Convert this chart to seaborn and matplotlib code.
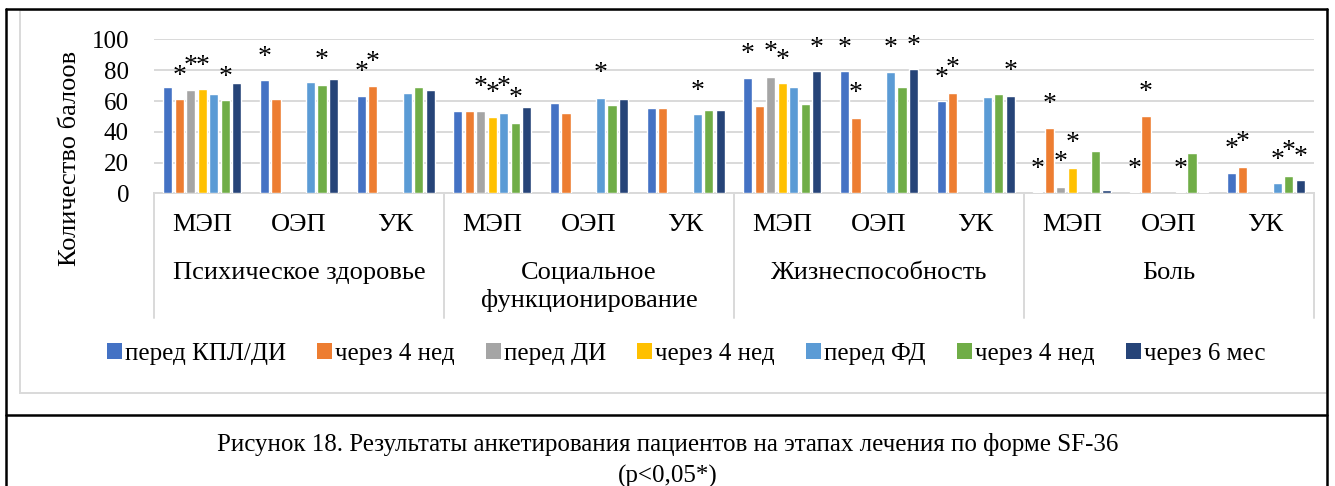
import numpy as np
import pandas as pd
import matplotlib
matplotlib.use("Agg")
import matplotlib.pyplot as plt
from matplotlib.patches import Patch, Rectangle
from matplotlib.lines import Line2D
from matplotlib.transforms import blended_transform_factory
import seaborn as sns

sns.set_theme(style="white")
plt.rcParams['font.family'] = ['Liberation Serif', 'DejaVu Serif']
plt.rcParams['text.color'] = 'black'
plt.rcParams['ytick.color'] = 'black'
plt.rcParams['xtick.color'] = 'black'
plt.rcParams['axes.labelcolor'] = 'black'

# categories of the two-level x axis
categories = ["Психическое здоровье", "Социальное\nфункционирование", "Жизнеспособность", "Боль"]
subgroups = ["МЭП", "ОЭП", "УК"]

series_labels = ["перед КПЛ/ДИ", "через 4 нед", "перед ДИ", "через 4 нед",
                 "перед ФД", "через 4 нед", "через 6 мес"]
series_keys = ["s1", "s2", "s3", "s4", "s5", "s6", "s7"]
colors = ["#4472C4", "#ED7D31", "#A5A5A5", "#FFC000", "#5B9BD5", "#70AD47", "#264478"]

nan = np.nan
# values per series, 12 groups (4 categories x МЭП/ОЭП/УК)
s1 = [69, 73.5, 63, 53.5, 58.5, 55.5, 75, 79.5, 60, 1, 1, 13.5]
s2 = [61, 61.5, 69.5, 53.5, 52, 55.5, 57, 49, 65.5, 42.5, 50, 17.5]
s3 = [67, nan, nan, 53.5, nan, nan, 75.5, nan, nan, 4.5, nan, nan]
s4 = [68, nan, nan, 49.5, nan, nan, 71.5, nan, nan, 16.5, nan, nan]
s5 = [64.5, 72.5, 65, 52, 62, 51.5, 69, 79, 62.5, nan, 1, 6.5]
s6 = [60.5, 70.5, 69, 46, 57.5, 54, 58, 69, 64.5, 27.5, 26.5, 11.5]
s7 = [71.5, 74.5, 67, 56, 61, 54, 79.5, 81, 63.5, 2, 1, 8.5]

# significance marks: group index, series index, height of the asterisk
star_group = [0, 0, 0, 0, 1, 1, 2, 2, 3, 3, 3, 3, 4, 5,
              6, 6, 6, 6, 7, 7, 7, 7, 8, 8, 8, 9, 9, 9, 9, 10, 10, 10,
              11, 11, 11, 11, 11]
star_series = [1, 2, 3, 5, 0, 5, 0, 1, 2, 3, 4, 5, 4, 4,
               0, 2, 3, 6, 0, 1, 4, 6, 0, 1, 6, 0, 1, 2, 3, 0, 1, 4,
               0, 1, 4, 5, 6]
star_height = [80.5, 87, 87, 80, 93, 91, 83, 89.5, 73.5, 69.5, 73, 66, 82.5, 71,
               94.5, 96, 91, 98.5, 98.5, 69.5, 98.5, 100, 79, 85.5, 83.5,
               20, 62.5, 24.5, 37, 20, 70, 20,
               33, 37.5, 26, 31.5, 28]

group_keys = [f"{i}-{sg}" for i in range(len(categories)) for sg in subgroups]
rows = []
for key, vals in zip(series_keys, [s1, s2, s3, s4, s5, s6, s7]):
    for g, v in zip(group_keys, vals):
        rows.append({"group": g, "series": key, "value": v})
df = pd.DataFrame(rows)

W, H = 1335, 486
fig = plt.figure(figsize=(W / 100, H / 100), dpi=100)
ax = fig.add_axes([154 / W, 1 - 193.5 / H, (1314 - 154) / W, (193.5 - 39.4) / H])

total_w = 0.833
sns.barplot(data=df, x="group", y="value", hue="series", order=group_keys,
            hue_order=series_keys, palette=colors, saturation=1, errorbar=None,
            width=total_w, gap=0.2, legend=False, ax=ax)

ax.set_xlim(-0.5, len(group_keys) - 0.5)
ax.set_ylim(0, 100)
ax.set_yticks(range(0, 101, 20))
ax.set_xticks([])
ax.set_xlabel("")
ax.set_ylabel("")
ax.yaxis.grid(True, color="#d9d9d9", linewidth=1.4)
ax.set_axisbelow(True)
for side in ["top", "right", "left"]:
    ax.spines[side].set_visible(False)
ax.spines["bottom"].set_color("#d9d9d9")
ax.spines["bottom"].set_linewidth(1.4)
ax.spines["bottom"].set_zorder(0.5)
ax.tick_params(axis="y", length=0, pad=18, labelsize=18)

# asterisks
n = len(series_keys)
for g, s, h in zip(star_group, star_series, star_height):
    xpos = g + (s - (n - 1) / 2) * total_w / n
    ax.annotate("*", (xpos, h), xytext=(0, -5), textcoords="offset points",
                ha="center", va="center", fontsize=20, annotation_clip=False)

# two-level category axis
tr = blended_transform_factory(ax.transData, fig.transFigure)
for i, g in enumerate(group_keys):
    ax.text(i, 1 - 225 / H, g.split("-")[1], transform=tr, ha="center", va="center", fontsize=19)
for c, name in enumerate(categories):
    ax.text(c * 3 + 1, 1 - 262 / H, name, transform=tr, ha="center", va="top",
            fontsize=19, linespacing=1.25)
for c in range(len(categories) + 1):
    ax.add_line(Line2D([c * 3 - 0.5] * 2, [1 - 193.5 / H, 1 - 318 / H], transform=tr,
                       color="#d9d9d9", linewidth=1.4, clip_on=False))

fig.text(70 / W, 1 - 158 / H, "Количество балоов", rotation=90, ha="center", va="center", fontsize=19)

handles = [Patch(facecolor=c, edgecolor="none") for c in colors]
fig.legend(handles, series_labels, loc="center", bbox_to_anchor=(686 / W, 1 - 354 / H), ncol=7,
           frameon=False, fontsize=18, handlelength=0.6, handleheight=0.6,
           handletextpad=0.12, columnspacing=1.25)

# chart frame and surrounding box
fig.add_artist(Rectangle((20 / W, 1 - 393 / H), (1327 - 20) / W, (393 - 10) / H,
                         transform=fig.transFigure, fill=False, edgecolor="#d9d9d9", linewidth=1.4))
for xs, ys in [([6, 6], [9.5, 486]), ([1327, 1327], [9.5, 486]),
               ([6, 1327], [9.5, 9.5]), ([6, 1327], [415, 415])]:
    fig.add_artist(Line2D([x / W for x in xs], [1 - y / H for y in ys],
                          transform=fig.transFigure, color="black", linewidth=1.8))

fig.text(0.5, 1 - 444 / H, "Рисунок 18. Результаты анкетирования пациентов на этапах лечения по форме SF-36",
         ha="center", va="center", fontsize=18)
fig.text(0.5, 1 - 476 / H, "(p<0,05*)", ha="center", va="center", fontsize=18)

fig.savefig("out.png", dpi=100)
